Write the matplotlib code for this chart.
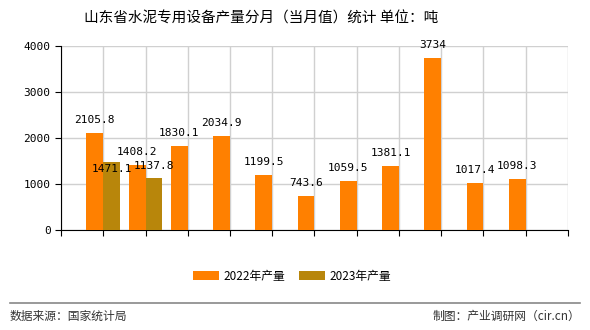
import numpy as np
import matplotlib.pyplot as plt

plt.rcParams['font.family'] = ['Noto Sans CJK SC', 'DejaVu Sans']

months = ['1-2月', '3月', '4月', '5月', '6月', '7月', '8月', '9月', '10月', '11月', '12月']
output_2022 = [2105.8, 1408.2, 1830.1, 2034.9, 1199.5, 743.6, 1059.5, 1381.1, 3734, 1017.4, 1098.3]
output_2023 = [1471.1, 1137.8]
labels_2022 = ['2105.8', '1408.2', '1830.1', '2034.9', '1199.5', '743.6', '1059.5', '1381.1', '3734', '1017.4', '1098.3']
labels_2023 = ['1471.1', '1137.8']

c2022 = '#ff8000'
c2023 = '#b8860b'
num_font = 'DejaVu Sans Mono'

fig = plt.figure(figsize=(5.9, 3.3), dpi=100)
ax = fig.add_axes([0.1034, 0.303, 0.8593, 0.5576])

x = np.arange(len(months))
w = 0.4
ax.bar(x - w / 2, output_2022, width=w, color=c2022, zorder=3, label='2022年产量')
x23 = x[:len(output_2023)]
ax.bar(x23 + w / 2, output_2023, width=w, color=c2023, zorder=3, label='2023年产量')

for xi, v, t in zip(x, output_2022, labels_2022):
    ax.annotate(t, (xi - w / 2, v), xytext=(0, 13), textcoords='offset pixels',
                ha='center', va='center', fontsize=8, family=num_font, zorder=4)
# the first 2023 label sits lower in the reference
offsets_2023 = [-7, 12]
for xi, v, t, off in zip(x23, output_2023, labels_2023, offsets_2023):
    ax.annotate(t, (xi + w / 2, v), xytext=(0, off), textcoords='offset pixels',
                ha='center', va='center', fontsize=8, family=num_font, zorder=4)

ax.set_xlim(-1, len(months))
ax.set_ylim(0, 4000)
ax.set_yticks([0, 1000, 2000, 3000, 4000])
ax.set_xticks(np.arange(-1, len(months) + 1))
ax.set_xticklabels([])
ax.set_xticks(x, months, minor=True)
ax.tick_params(axis='x', which='minor', length=0, labelsize=8.5, pad=3)
ax.tick_params(axis='x', which='major', length=4, color='black')
ax.tick_params(axis='y', length=4, labelsize=8)
for lab in ax.get_yticklabels():
    lab.set_family(num_font)

ax.grid(True, which='major', color='#d0d0d0', linewidth=1, zorder=0)
ax.spines['top'].set_visible(False)
ax.spines['right'].set_visible(False)
ax.spines['left'].set_color('black')
ax.spines['bottom'].set_color('black')
ax.set_axisbelow(True)

fig.text(0.442, 0.945, '山东省水泥专用设备产量分月（当月值）统计 单位：吨', ha='center', va='center', fontsize=10.5)

fig.legend(loc='center', bbox_to_anchor=(0.495, 0.163), ncol=2, frameon=False,
           fontsize=8.5, handlelength=2.2, handleheight=0.8, columnspacing=1.2, handletextpad=0.4)

fig.add_artist(plt.Line2D([0.017, 0.983], [0.082, 0.082], color='#888888', linewidth=1.2))
fig.text(0.017, 0.042, '数据来源：国家统计局', ha='left', va='center', fontsize=8.5, color='#333333')
fig.text(0.983, 0.042, '制图：产业调研网（cir.cn）', ha='right', va='center', fontsize=8.5, color='#333333')

fig.savefig('out.png', dpi=100)
